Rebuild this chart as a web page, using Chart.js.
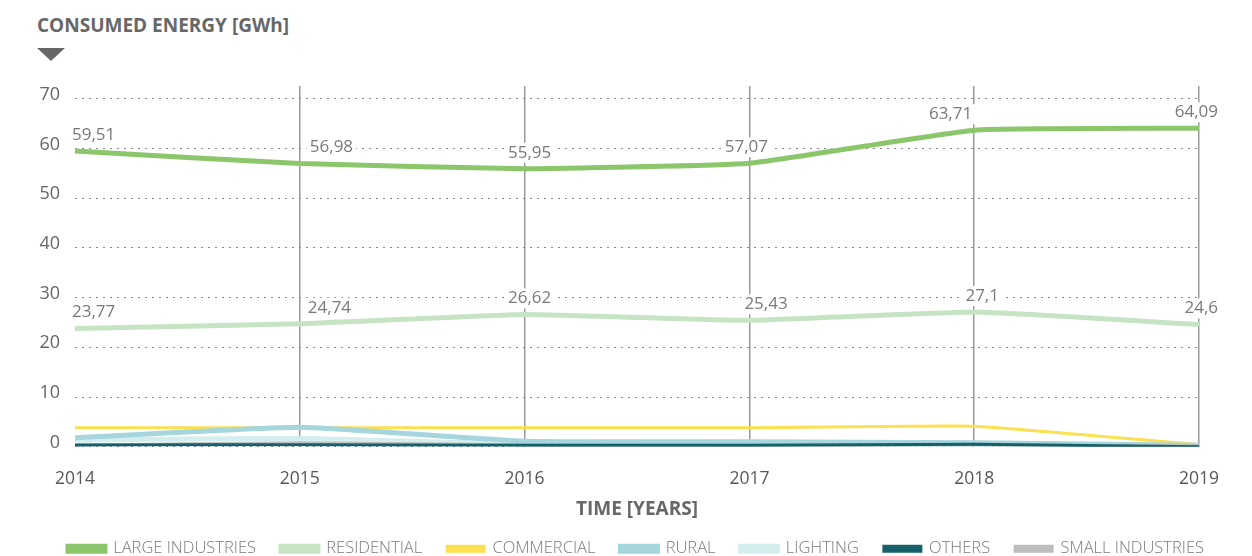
<!DOCTYPE html>
<html>
<head>
<meta charset="utf-8">
<script src="https://cdn.jsdelivr.net/npm/chart.js@4.4.1/dist/chart.umd.min.js"></script>
<style>
  html, body { margin: 0; padding: 0; background: #fff; }
  body { width: 1252px; height: 556px; position: relative; overflow: hidden; font-family: "Open Sans", sans-serif; }
  #title { position: absolute; left: 37px; top: 12px; font-size: 19px; font-weight: 700; color: #676767; }
  #arrow { position: absolute; left: 37px; top: 48px; width: 0; height: 0;
           border-left: 14px solid transparent; border-right: 14px solid transparent; border-top: 13px solid #676767; }
  #wrap { position: absolute; left: 0; top: 0; width: 1272px; height: 567px; }
</style>
</head>
<body>
<div id="title">CONSUMED ENERGY [GWh]</div>
<div id="arrow"></div>
<div id="wrap"><canvas id="chart"></canvas></div>
<script>
// --- data ---
const YEARS = ['2014', '2015', '2016', '2017', '2018', '2019'];
const Y_TICKS = [0, 10, 20, 30, 40, 50, 60, 70];

const LARGE_INDUSTRIES = [59.51, 56.98, 55.95, 57.07, 63.71, 64.09];
const RESIDENTIAL      = [23.77, 24.74, 26.62, 25.43, 27.1, 24.6];
const COMMERCIAL       = [3.8, 3.8, 3.8, 3.8, 4.1, 0.4];
const RURAL            = [1.8, 3.9, 1.1, 1.0, 0.8, 0.3];
const LIGHTING         = [1.3, 1.7, 0.5, 0.4, 0.4, 0.2];
const OTHERS           = [0.35, 0.4, 0.3, 0.3, 0.5, 0];
const SMALL_INDUSTRIES = [0.3, 0.8, 0.4, 0.3, 0.4, 0.2];

// where each value label sits relative to its point: [text align, x shift]
const LABEL_PLACEMENT = {
    'LARGE INDUSTRIES': [['left', -3], ['left', 10], ['center', 5], ['center', -3], ['right', -2], ['right', 19]],
    'RESIDENTIAL':      [['left', -3], ['left', 8], ['center', 5], ['left', -5], ['center', 8], ['right', 19]]
};

function series(label, data, color, width, order) {
    return {
        label, data,
        borderColor: color,
        backgroundColor: color,
        borderWidth: width,
        pointRadius: 0,
        pointHoverRadius: 0,
        tension: 0.12,
        fill: false,
        order
    };
}

// value labels with a white box, like the original
const valueLabels = {
    id: 'valueLabels',
    afterDatasetsDraw(chart) {
        const ctx = chart.ctx;
        ctx.save();
        ctx.font = '17px "Open Sans"';
        ctx.textBaseline = 'middle';
        ctx.textAlign = 'left';
        chart.data.datasets.forEach((ds, i) => {
            const place = LABEL_PLACEMENT[ds.label];
            if (!place) return;
            chart.getDatasetMeta(i).data.forEach((pt, j) => {
                const txt = String(ds.data[j]).replace('.', ',');
                const w = ctx.measureText(txt).width;
                const [align, dx] = place[j];
                let x = pt.x + dx;
                if (align === 'center') x -= w / 2;
                if (align === 'right') x -= w;
                const y = pt.y - 16;
                ctx.fillStyle = '#fff';
                ctx.fillRect(x - 3, y - 10, w + 6, 20);
                ctx.fillStyle = '#7a7a7a';
                ctx.fillText(txt, x, y);
            });
        });
        ctx.restore();
    }
};

window.onload = () => {
    const ctx = document.getElementById('chart').getContext('2d');
    new Chart(ctx, {
        type: 'line',
        data: {
            labels: YEARS,
            datasets: [
                series('LARGE INDUSTRIES', LARGE_INDUSTRIES, '#8cc66b', 5, 7),
                series('RESIDENTIAL', RESIDENTIAL, '#c6e4c4', 5, 6),
                series('COMMERCIAL', COMMERCIAL, '#fbe04f', 3, 5),
                series('RURAL', RURAL, '#a5d5dd', 5, 3),
                series('LIGHTING', LIGHTING, '#d4eef0', 5, 4),
                series('OTHERS', OTHERS, '#16606a', 3, 0),
                series('SMALL INDUSTRIES', SMALL_INDUSTRIES, '#bdbdbd', 3, 1)
            ]
        },
        options: {
            responsive: true,
            maintainAspectRatio: false,
            animation: false,
            layout: { padding: { top: 86, right: 0, left: 0, bottom: 0 } },
            plugins: {
                tooltip: { enabled: false },
                legend: {
                    position: 'bottom',
                    labels: {
                        sort: (a, b) => a.datasetIndex - b.datasetIndex,
                        boxWidth: 37,
                        boxHeight: 5,
                        padding: 25,
                        color: '#7a7a7a',
                        font: { family: 'Open Sans', size: 16.5, weight: '300' }
                    }
                }
            },
            scales: {
                x: {
                    grid: {
                        color: c => c.index === 0 ? 'rgba(0,0,0,0)' : '#9a9a9a',
                        lineWidth: 1.5,
                        drawTicks: false
                    },
                    border: { display: false },
                    ticks: {
                        color: '#585858',
                        padding: 22,
                        font: { family: 'Open Sans', size: 17.5 }
                    },
                    title: {
                        display: true,
                        text: 'TIME [YEARS]',
                        color: '#676767',
                        padding: { top: -14, bottom: -5 },
                        font: { family: 'Open Sans', size: 19, weight: 'bold' }
                    }
                },
                y: {
                    min: 0,
                    max: 72.6,
                    afterBuildTicks: scale => { scale.ticks = Y_TICKS.map(v => ({ value: v })); },
                    afterFit: scale => { scale.width = 75; },
                    grid: {
                        color: '#8a8a8a',
                        lineWidth: 1,
                        drawTicks: false
                    },
                    border: { display: false, dash: [2, 5] },
                    ticks: {
                        color: '#666',
                        padding: 15,
                        labelOffset: -4,
                        font: { family: 'Open Sans', size: 18 }
                    }
                },
                // empty right-hand gutter so the legend centres like the original
                gutter: {
                    type: 'linear',
                    position: 'right',
                    display: true,
                    afterFit: scale => { scale.width = 73; },
                    grid: { display: false },
                    border: { display: false },
                    ticks: { display: false }
                }
            }
        },
        plugins: [valueLabels]
    });
};
</script>
</body>
</html>
